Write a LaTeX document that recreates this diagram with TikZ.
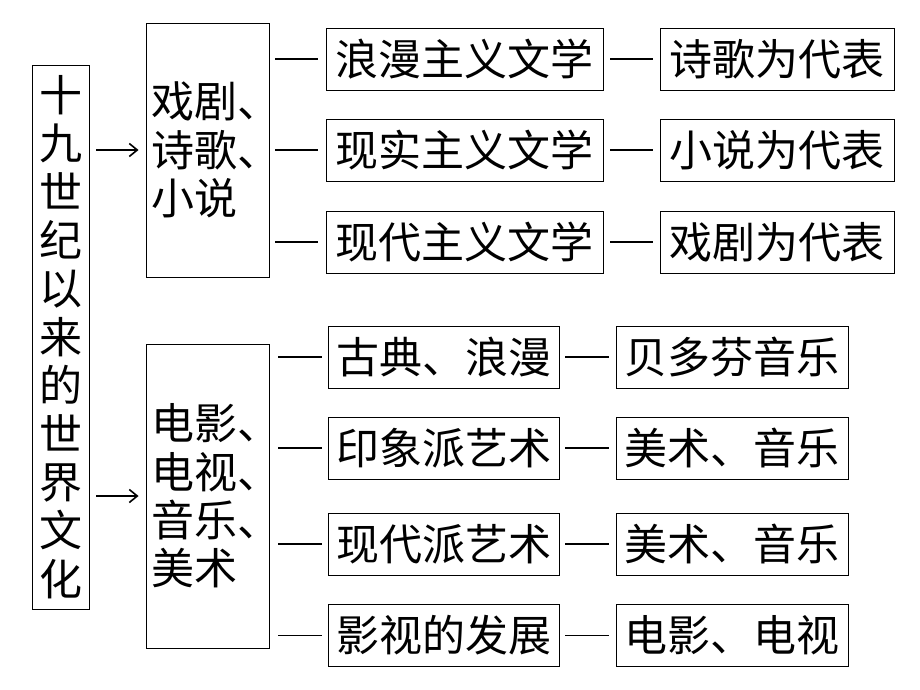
\documentclass[tikz,border=0pt]{standalone}
\usepackage{fontspec}
\newfontfamily\cjk{Noto Sans CJK SC}
\usetikzlibrary{arrows.meta}

\tikzset{
  box/.style = {draw, line width=0.9pt, inner sep=0pt, font=\cjk\fontsize{43}{48.4}\selectfont},
  link/.style = {line width=1.5pt},
  pointer/.style = {line width=1.6pt, -{Straight Barb[length=8pt,width=13pt,line width=1.6pt]}, shorten <=7pt, shorten >=7pt}
}

\begin{document}
\begin{tikzpicture}[x=1pt, y=-1pt]
      \useasboundingbox (0, 0) rectangle (920, 690);

      % left column
      \node [box, minimum width=57pt, minimum height=544pt, align=center] (world) at (60.5, 337)
        {十\\九\\世\\纪\\以\\来\\的\\世\\界\\文\\化};

      % second column
      \node [box, minimum width=123pt, minimum height=254pt, text width=112pt, align=left] (lit) at (207.5, 150)
        {戏剧、\\诗歌、\\小说};
      \node [box, minimum width=123pt, minimum height=304pt, text width=112pt, align=left] (media) at (207.5, 496)
        {电影、\\电视、\\音乐、\\美术};

      \draw [pointer] (lit.west -| world.east) -- (lit.west);
      \draw [pointer] (media.west -| world.east) -- (media.west);

      % literature rows
      \node [box, minimum width=277pt, minimum height=62pt] (romlit) at (464.5, 59) {浪漫主义文学};
      \node [box, minimum width=277pt, minimum height=62pt] (reallit) at (464.5, 150) {现实主义文学};
      \node [box, minimum width=277pt, minimum height=62pt] (modlit) at (464.5, 242) {现代主义文学};
      \node [box, minimum width=234pt, minimum height=62pt] (poem) at (777, 59) {诗歌为代表};
      \node [box, minimum width=234pt, minimum height=62pt] (novel) at (777, 150) {小说为代表};
      \node [box, minimum width=234pt, minimum height=62pt] (drama) at (777, 242) {戏剧为代表};

      \foreach \a/\b in {romlit/poem, reallit/novel, modlit/drama} {
        \draw [link, shorten <=6pt, shorten >=8pt] (lit.east |- \a.west) -- (\a.west);
        \draw [link, shorten <=7pt, shorten >=7pt] (\a.east) -- (\b.west);
      }

      % art rows
      \node [box, minimum width=231pt, minimum height=62pt] (classic) at (443.5, 357) {古典、浪漫};
      \node [box, minimum width=231pt, minimum height=62pt] (impress) at (443.5, 448) {印象派艺术};
      \node [box, minimum width=231pt, minimum height=62pt] (modart) at (443.5, 544) {现代派艺术};
      \node [box, minimum width=231pt, minimum height=62pt] (film) at (443.5, 635.5) {影视的发展};
      \node [box, minimum width=232pt, minimum height=62pt] (beet) at (732, 357) {贝多芬音乐};
      \node [box, minimum width=232pt, minimum height=62pt] (paint) at (732, 448) {美术、音乐};
      \node [box, minimum width=232pt, minimum height=62pt] (paint2) at (732, 544) {美术、音乐};
      \node [box, minimum width=232pt, minimum height=62pt] (tv) at (732, 635.5) {电影、电视};

      \foreach \a/\b in {classic/beet, impress/paint, modart/paint2, film/tv} {
        \draw [link, shorten <=9pt, shorten >=6pt] (media.east |- \a.west) -- (\a.west);
        \draw [link, shorten <=6pt, shorten >=7pt] (\a.east) -- (\b.west);
      }
\end{tikzpicture}
\end{document}
